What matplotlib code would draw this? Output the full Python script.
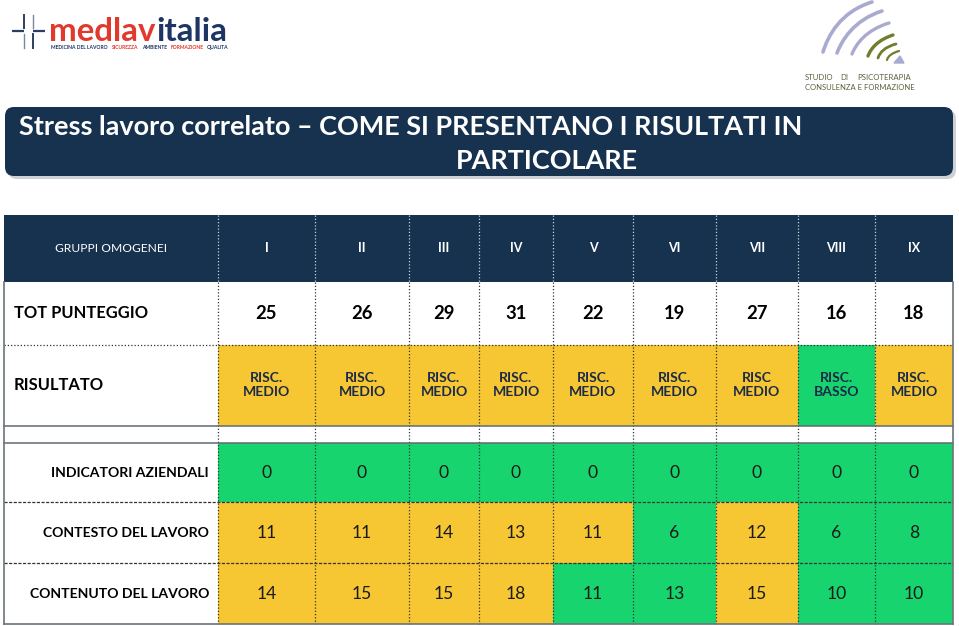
import matplotlib
matplotlib.use('Agg')
import matplotlib.pyplot as plt
from matplotlib.patches import Rectangle, FancyBboxPatch, PathPatch
from matplotlib.path import Path

# ---------------- data ----------------
groups = ['I', 'II', 'III', 'IV', 'V', 'VI', 'VII', 'VIII', 'IX']
tot_punteggio = [25, 26, 29, 31, 22, 19, 27, 16, 18]
risultato = ['RISC.\nMEDIO', 'RISC.\nMEDIO', 'RISC.\nMEDIO', 'RISC.\nMEDIO', 'RISC.\nMEDIO',
             'RISC.\nMEDIO', 'RISC\nMEDIO', 'RISC.\nBASSO', 'RISC.\nMEDIO']
risultato_level = ['M', 'M', 'M', 'M', 'M', 'M', 'M', 'B', 'M']
indicatori = [0, 0, 0, 0, 0, 0, 0, 0, 0]
indicatori_level = ['B', 'B', 'B', 'B', 'B', 'B', 'B', 'B', 'B']
contesto = [11, 11, 14, 13, 11, 6, 12, 6, 8]
contesto_level = ['M', 'M', 'M', 'M', 'M', 'B', 'M', 'B', 'B']
contenuto = [14, 15, 15, 18, 11, 13, 15, 10, 10]
contenuto_level = ['M', 'M', 'M', 'M', 'B', 'B', 'M', 'B', 'B']
row_labels = ['GRUPPI OMOGENEI', 'TOT PUNTEGGIO', 'RISULTATO',
              'INDICATORI AZIENDALI', 'CONTESTO DEL LAVORO', 'CONTENUTO DEL LAVORO']
title_lines = ['Stress lavoro correlato \u2013 COME SI PRESENTANO I RISULTATI IN', 'PARTICOLARE']

# ---------------- style / layout ----------------
NAVY = '#17324f'
YELLOW = '#f6c633'
GREEN = '#17d46f'
level_color = {'M': YELLOW, 'B': GREEN}
FONT = 'Lato'
W, H = 959, 626

def px(p):  # pixel size -> points at dpi 100
    return p * 0.72

col_edges = [4, 218, 315, 409, 479, 553, 633, 716, 798, 875, 953]
hdr = (215, 282)
r_tot = (282, 345)
r_ris = (345, 426)
r_blank = (426, 443)
r_ind = (443, 502)
r_con = (502, 563)
r_cnt = (563, 624)

fig = plt.figure(figsize=(W / 100, H / 100), dpi=100)
ax = fig.add_axes([0, 0, 1, 1])
ax.set_xlim(0, W)
ax.set_ylim(H, 0)
ax.axis('off')

# ---------------- logos ----------------
cross_c = '#2c3e63'
ax.plot([12, 24], [31, 31], color=cross_c, lw=1.6, solid_capstyle='butt')
ax.plot([33, 45], [31, 31], color=cross_c, lw=1.6, solid_capstyle='butt')
ax.plot([24, 24], [15, 28], color=cross_c, lw=1.4)
ax.plot([33, 33], [34, 48], color=cross_c, lw=1.4)
ax.plot([24, 24], [34, 48], color='#7b87a0', lw=1.0)
ax.plot([33, 33], [15, 28], color='#7b87a0', lw=1.0)
ax.text(49, 41, 'medlav', color='#e2392d', fontsize=px(33), fontweight='bold',
        family=FONT, ha='left', va='baseline')
ax.text(156, 41, 'italia', color='#1c3564', fontsize=px(33), fontweight='bold',
        family=FONT, ha='left', va='baseline')
sub = [('MEDICINA DEL LAVORO', 51, '#1c3564'), ('SICUREZZA', 112, '#e2392d'),
       ('AMBIENTE', 142, '#1c3564'), ('FORMAZIONE', 171, '#e2392d'), ('QUALITA', 207, '#1c3564')]
for t, x, c in sub:
    ax.text(x, 47.5, t, color=c, fontsize=px(5.0), fontweight='bold', family=FONT,
            ha='left', va='center')

def curve(p0, p1, p2, p3, color, lw):
    path = Path([p0, p1, p2, p3], [Path.MOVETO, Path.CURVE4, Path.CURVE4, Path.CURVE4])
    ax.add_patch(PathPatch(path, fill=False, edgecolor=color, lw=lw, capstyle='round'))

lav = '#a9aad0'
olive = '#6f7d2c'
curve((823, 52), (828, 36), (840, 12), (872, 2), lav, 2.6)
curve((837, 53), (842, 40), (854, 20), (882, 11), lav, 2.6)
curve((852, 54), (856, 44), (866, 30), (889, 23), lav, 2.4)
curve((868, 56), (871, 48), (878, 40), (893, 35), olive, 2.4)
curve((878, 58), (880, 52), (885, 47), (896, 44), olive, 2.0)
curve((887, 60), (888, 56), (892, 53), (899, 51), olive, 1.6)
ax.add_patch(plt.Polygon([[894, 63], [904, 63], [900, 56]], color=lav))
ax.text(805, 77, 'STUDIO', color='#5e5e3c', fontsize=px(7.8),
        family=FONT, ha='left', va='center')
ax.text(840, 77, 'DI', color='#5e5e3c', fontsize=px(7.8),
        family=FONT, ha='left', va='center')
ax.text(911, 77, 'PSICOTERAPIA', color='#5e5e3c', fontsize=px(7.8),
        family=FONT, ha='right', va='center')
ax.text(805, 88, 'CONSULENZA E FORMAZIONE', color='#5e5e3c', fontsize=px(7.6),
        family=FONT, ha='left', va='center')

# ---------------- title banner ----------------
ax.add_patch(FancyBboxPatch((8, 110), 948, 69, boxstyle='round,pad=0,rounding_size=9',
                            facecolor='#b9bcc2', edgecolor='none', alpha=0.7))
ax.add_patch(FancyBboxPatch((5, 107), 948, 69, boxstyle='round,pad=0,rounding_size=9',
                            facecolor=NAVY, edgecolor='none'))
ax.text(19, 127, title_lines[0], color='white', fontsize=px(27), fontweight='bold',
        family=FONT, ha='left', va='center')
ax.text(456, 161, title_lines[1], color='white', fontsize=px(27), fontweight='bold',
        family=FONT, ha='left', va='center')

# ---------------- table ----------------
centers = [(col_edges[i + 1] + col_edges[i + 2]) / 2 for i in range(len(groups))]

ax.add_patch(Rectangle((col_edges[0], hdr[0]), col_edges[-1] - col_edges[0], hdr[1] - hdr[0],
                       facecolor=NAVY, edgecolor='none'))
ymid = sum(hdr) / 2
ax.text((col_edges[0] + col_edges[1]) / 2, ymid, row_labels[0], color='white',
        fontsize=px(12), family=FONT, ha='center', va='center')
for x, g in zip(centers, groups):
    ax.text(x, ymid, g, color='white', fontsize=px(12.5), fontweight='bold', family=FONT,
            ha='center', va='center')

def fill_row(rows, levels):
    for i, lv in enumerate(levels):
        ax.add_patch(Rectangle((col_edges[i + 1], rows[0]), col_edges[i + 2] - col_edges[i + 1],
                               rows[1] - rows[0], facecolor=level_color[lv], edgecolor='none'))

fill_row(r_ris, risultato_level)
fill_row(r_ind, indicatori_level)
fill_row(r_con, contesto_level)
fill_row(r_cnt, contenuto_level)

# TOT PUNTEGGIO
ym = sum(r_tot) / 2
ax.text(14, ym, row_labels[1], color='black', fontsize=px(16.5), fontweight='bold',
        family=FONT, ha='left', va='center')
for x, v in zip(centers, tot_punteggio):
    ax.text(x, ym, str(v), color='black', fontsize=px(18.5), fontweight='bold',
            family=FONT, ha='center', va='center')

# RISULTATO
ym = sum(r_ris) / 2
ax.text(14, ym, row_labels[2], color='black', fontsize=px(16.5), fontweight='bold',
        family=FONT, ha='left', va='center')
for x, s in zip(centers, risultato):
    l1, l2 = s.split('\n')
    ax.text(x, ym - 7, l1, color='#1d2b48', fontsize=px(14), fontweight='bold',
            family=FONT, ha='center', va='center')
    ax.text(x, ym + 6.5, l2, color='#1d2b48', fontsize=px(14), fontweight='bold',
            family=FONT, ha='center', va='center')

# numeric rows
for rows, lab, vals in [(r_ind, row_labels[3], indicatori), (r_con, row_labels[4], contesto),
                        (r_cnt, row_labels[5], contenuto)]:
    ym = sum(rows) / 2 + 0.5
    ax.text(209, ym, lab, color='black', fontsize=px(14), fontweight='bold',
            family=FONT, ha='right', va='center')
    for x, v in zip(centers, vals):
        ax.text(x, ym, str(v), color='#1a1a1a', fontsize=px(17.5),
                family=FONT, ha='center', va='center')

# grid lines
dot = (0, (1, 1.6))
L, R = col_edges[0], col_edges[-1]
for x in col_edges[1:-1]:
    ax.plot([x, x], [hdr[0], hdr[1]], color='#c9d2de', lw=0.9, ls=dot)
    ax.plot([x, x], [hdr[1], r_cnt[1]], color='#333333', lw=0.9, ls=dot)
ax.plot([L, R], [r_tot[1], r_tot[1]], color='#333333', lw=0.9, ls=dot)
for y in (r_ris[1], r_blank[1]):
    ax.plot([L, R], [y, y], color='#5f6b70', lw=1.1)
for y in (r_ind[1], r_con[1]):
    ax.plot([L, R], [y, y], color='#333333', lw=0.9, ls=(0, (2.5, 1.2)))
ax.plot([L, R], [r_cnt[1], r_cnt[1]], color='#6c7478', lw=1.2)
ax.plot([L, L], [hdr[1], r_cnt[1]], color='#6c7478', lw=1.2)
ax.plot([R, R], [hdr[1], r_cnt[1]], color='#6c7478', lw=1.2)

fig.savefig('out.png', dpi=100)
